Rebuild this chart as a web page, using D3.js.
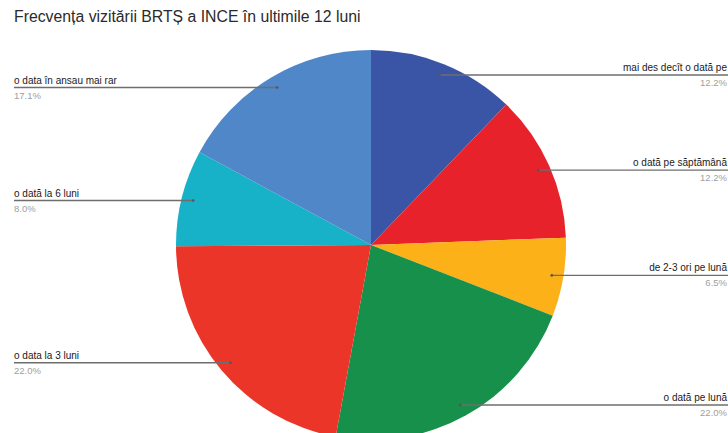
<!DOCTYPE html>
<html>
<head>
<meta charset="utf-8">
<script src="https://cdn.jsdelivr.net/npm/d3@7"></script>
<style>
  body { margin: 0; background: #fff; }
  svg { display: block; }
</style>
</head>
<body>
<svg id="chart"></svg>
<script>
// slices, clockwise from 12 o'clock
const labels = ["mai des decît o dată pe", "o dată pe săptămână", "de 2-3 ori pe lună", "o dată pe lună", "o data la 3 luni", "o dată la 6 luni", "o data în ansau mai rar"];
const values = [12.2, 12.2, 6.5, 22.0, 22.0, 8.0, 17.1];
const colors = ["#3b55a6", "#e8222b", "#fbb117", "#16904b", "#eb3528", "#17b1c8", "#4f87c8"];

const width = 728, height = 433;
const cx = 371, cy = 245, radius = 195;

let svg = d3.select("#chart")
    .attr("width", width)
    .attr("height", height);

svg.append("text")
    .attr("x", 14)
    .attr("y", 22)
    .style("font-family", "Liberation Sans, Arial, sans-serif")
    .style("font-size", "15.8px")
    .style("fill", "#2b2b2b")
    .text("Frecvența vizitării BRTȘ a INCE în ultimile 12 luni");

let pie = d3.pie().sort(null).value(d => d.value);
let arcs = pie(values.map((v, i) => ({label: labels[i], value: v, color: colors[i]})));

let arc = d3.arc().innerRadius(0).outerRadius(radius);

let g = svg.append("g").attr("transform", `translate(${cx},${cy})`);

g.selectAll("path")
    .data(arcs)
    .join("path")
    .attr("d", arc)
    .style("fill", d => d.data.color);

// label lines start inside the slice at mid-angle and run horizontally to the edge
let anchor = d3.arc().innerRadius(radius * 0.94).outerRadius(radius * 0.94);

let lab = svg.append("g");

arcs.forEach(function (d) {
    let p = anchor.centroid(d);
    let x0 = cx + p[0], y0 = cy + p[1];
    let mid = (d.startAngle + d.endAngle) / 2;
    let right = mid < Math.PI;
    let x1 = right ? width : 14;

    lab.append("line")
        .attr("x1", x0).attr("y1", y0)
        .attr("x2", x1).attr("y2", y0)
        .style("stroke", "#6e6e6e")
        .style("stroke-width", 1.4);

    lab.append("circle")
        .attr("cx", x0).attr("cy", y0)
        .attr("r", 1.3)
        .style("fill", "#555");

    let tx = right ? 727 : 14;
    let anchorText = right ? "end" : "start";

    lab.append("text")
        .attr("x", tx).attr("y", y0 - 4)
        .attr("text-anchor", anchorText)
        .style("font-family", "Liberation Sans, Arial, sans-serif")
        .style("font-size", "10px")
        .style("fill", "#1a1a1a")
        .text(d.data.label);

    lab.append("text")
        .attr("x", tx).attr("y", y0 + 11)
        .attr("text-anchor", anchorText)
        .style("font-family", "Liberation Sans, Arial, sans-serif")
        .style("font-size", "9.5px")
        .style("fill", "#a0a0a0")
        .text(d.data.value.toFixed(1) + "%");
});
</script>
</body>
</html>
